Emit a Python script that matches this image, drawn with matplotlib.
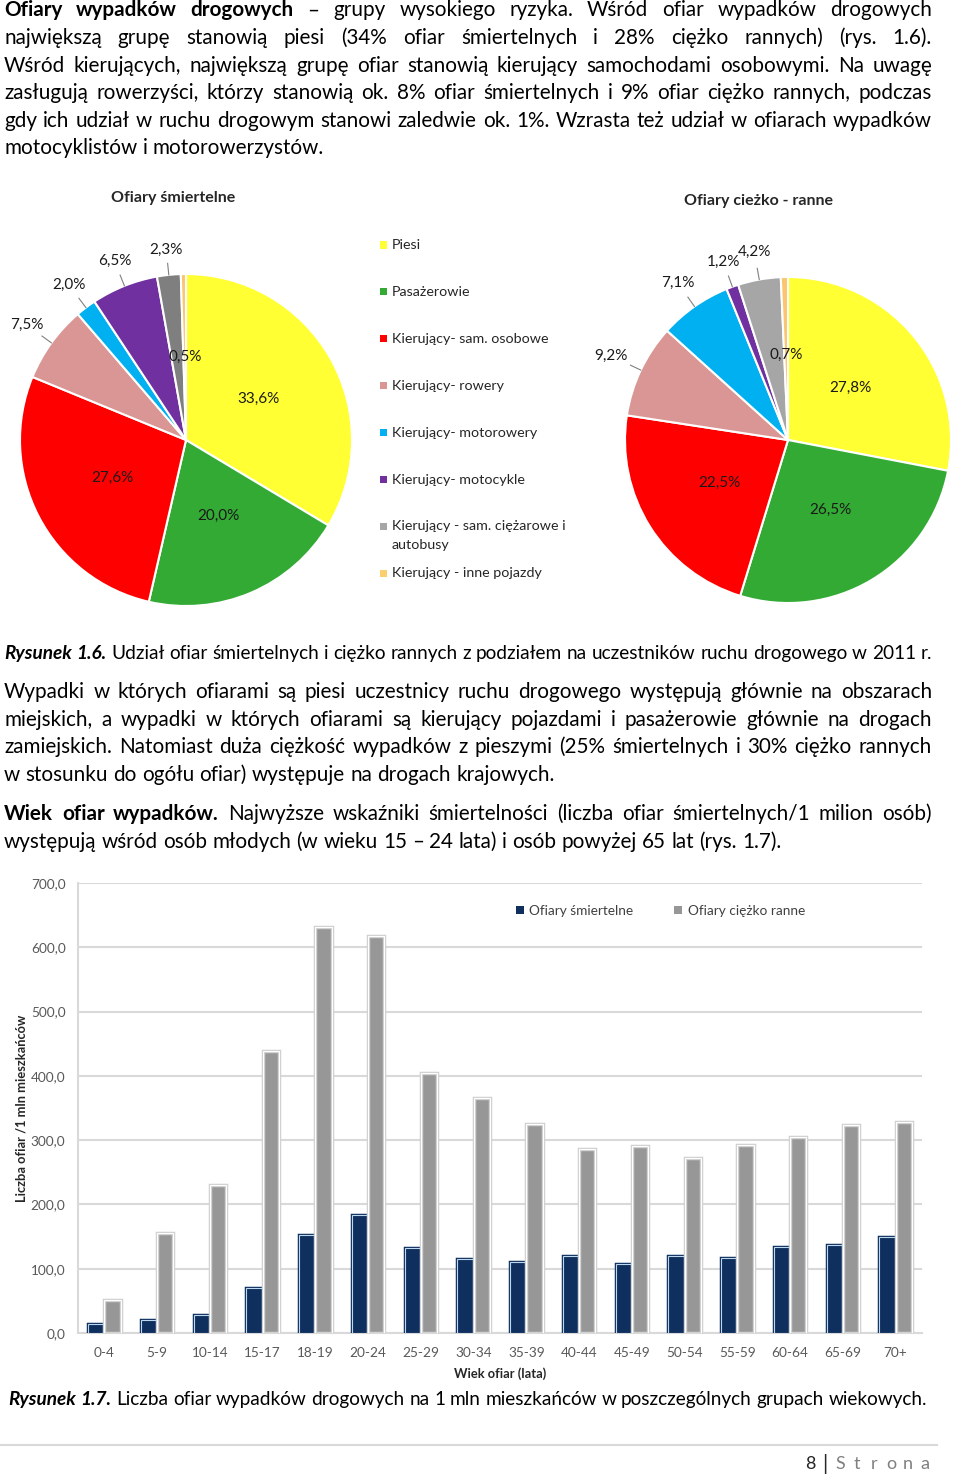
import matplotlib
matplotlib.use('Agg')
import matplotlib.pyplot as plt
from matplotlib.patches import Rectangle
from matplotlib.lines import Line2D
import numpy as np

W, H = 960, 1475

# ---------------- data ----------------
pie_categories = ['Piesi', 'Pasażerowie', 'Kierujący- sam. osobowe', 'Kierujący- rowery',
                  'Kierujący- motorowery', 'Kierujący- motocykle',
                  'Kierujący - sam. ciężarowe i\nautobusy', 'Kierujący - inne pojazdy']
fatal_share = [33.6, 20.0, 27.6, 7.5, 2.0, 6.5, 2.3, 0.5]
injured_share = [27.8, 26.5, 22.5, 9.2, 7.1, 1.2, 4.2, 0.7]
pie_titles = ['Ofiary śmiertelne', 'Ofiary cieżko - ranne']

age_groups = ['0-4', '5-9', '10-14', '15-17', '18-19', '20-24', '25-29', '30-34',
              '35-39', '40-44', '45-49', '50-54', '55-59', '60-64', '65-69', '70+']
fatal_rate = [13.5, 20, 27.5, 70, 153, 183.5, 133, 115, 111, 120, 108, 120, 116, 134, 137, 149]
injured_rate = [51, 155, 230, 438, 632, 617, 404, 365, 325, 287, 291, 273, 292, 305, 324, 328]
y_ticks = [0, 100, 200, 300, 400, 500, 600, 700]
bar_series = ['Ofiary śmiertelne', 'Ofiary ciężko ranne']

# ---------------- styles ----------------
FONT = ['Lato', 'DejaVu Sans']
NARROW = ['Liberation Sans Narrow', 'Lato', 'DejaVu Sans']
fatal_colors = ['#FFFF33', '#33AA33', '#FF0000', '#D99694', '#00B0F0', '#7030A0', '#7F7F7F', '#FAC56E']
injured_colors = ['#FFFF33', '#33AA33', '#FF0000', '#D99694', '#00B0F0', '#7030A0', '#A6A6A6', '#FAC56E']
legend_colors = ['#FFFF33', '#33AA33', '#FF0000', '#D99694', '#00B0F0', '#7030A0', '#A6A6A6', '#FAD06E']
NAVY = '#0F2F5E'
GREY = '#979797'

fig = plt.figure(figsize=(W / 100, H / 100), dpi=100)
fig.patch.set_facecolor('white')
renderer = fig.canvas.get_renderer()


def fx(x):
    return x / W


def fy(y):
    return 1 - y / H


def measure(s, **kw):
    t = fig.text(0, 0, s, **kw)
    w = t.get_window_extent(renderer).width
    t.remove()
    return w


def words_of(segs):
    out = []
    for txt, weight, style in segs:
        for wd in txt.split():
            out.append((wd, weight, style))
    return out


def natural_width(segs, size, family):
    ws = words_of(segs)
    tot = sum(measure(w, fontsize=size, fontweight=b, fontstyle=s, family=family) for w, b, s in ws)
    sp = measure('a a', fontsize=size, family=family) - measure('aa', fontsize=size, family=family)
    return tot + sp * (len(ws) - 1)


def text_line(segs, base_y, x0, x1, justify, size, family, color='black'):
    ws = words_of(segs)
    arts, widths = [], []
    for wd, b, s in ws:
        t = fig.text(fx(x0), fy(base_y), wd, fontsize=size, fontweight=b, fontstyle=s,
                     family=family, color=color, va='baseline', ha='left')
        widths.append(t.get_window_extent(renderer).width)
        arts.append(t)
    sp = measure('a a', fontsize=size, family=family) - measure('aa', fontsize=size, family=family)
    gap = (x1 - x0 - sum(widths)) / (len(ws) - 1) if (justify and len(ws) > 1) else sp
    x = x0
    for t, w in zip(arts, widths):
        t.set_x(fx(x))
        x += w + gap


R, B, I = 'normal', 'bold', 'italic'
N = 'normal'
para1 = [
    ([('Ofiary wypadków drogowych', B, N), ('– grupy wysokiego ryzyka. Wśród ofiar wypadków drogowych', R, N)], True),
    ([('największą grupę stanowią piesi (34% ofiar śmiertelnych i 28% ciężko rannych) (rys. 1.6).', R, N)], True),
    ([('Wśród kierujących, największą grupę ofiar stanowią kierujący samochodami osobowymi. Na uwagę', R, N)], True),
    ([('zasługują rowerzyści, którzy stanowią ok. 8% ofiar śmiertelnych i 9% ofiar ciężko rannych, podczas', R, N)], True),
    ([('gdy ich udział w ruchu drogowym stanowi zaledwie ok. 1%. Wzrasta też udział w ofiarach wypadków', R, N)], True),
    ([('motocyklistów i motorowerzystów.', R, N)], False),
]
para2 = [
    ([('Wypadki w których ofiarami są piesi uczestnicy ruchu drogowego występują głównie na obszarach', R, N)], True),
    ([('miejskich, a wypadki w których ofiarami są kierujący pojazdami i pasażerowie głównie na drogach', R, N)], True),
    ([('zamiejskich. Natomiast duża ciężkość wypadków z pieszymi (25% śmiertelnych i 30% ciężko rannych', R, N)], True),
    ([('w stosunku do ogółu ofiar) występuje na drogach krajowych.', R, N)], False),
]
para3 = [
    ([('Wiek ofiar wypadków.', B, N), ('Najwyższe wskaźniki śmiertelności (liczba ofiar śmiertelnych/1 milion osób)', R, N)], True),
    ([('występują wśród osób młodych (w wieku 15 – 24 lata) i osób powyżej 65 lat (rys. 1.7).', R, N)], False),
]

X0, X1 = 4, 932
base = 15.0
maxnat = max(natural_width(s, base, FONT) for s, j in para1 + para2 + para3 if j)
BODY = base * (0.985 * (X1 - X0)) / maxnat

for i, (segs, j) in enumerate(para1):
    text_line(segs, 16.5 + i * 27.6, X0, X1, j, BODY, FONT)
for i, (segs, j) in enumerate(para2):
    text_line(segs, 698 + i * 27.6, X0, X1, j, BODY, FONT)
for i, (segs, j) in enumerate(para3):
    text_line(segs, 820 + i * 27.6, X0, X1, j, BODY, FONT)

# captions
cap16 = [('Rysunek 1.6.', B, I), ('Udział ofiar śmiertelnych i ciężko rannych z podziałem na uczestników ruchu drogowego w 2011 r.', R, N)]
s16 = 12.0 * (X1 - X0) / natural_width(cap16, 12.0, FONT)
text_line(cap16, 659, X0, X1, True, s16, FONT)
cap17 = [('Rysunek 1.7.', B, I), ('Liczba ofiar wypadków drogowych na 1 mln mieszkańców w poszczególnych grupach wiekowych.', R, N)]
s17 = 12.0 * (927 - 8) / natural_width(cap17, 12.0, NARROW)
text_line(cap17, 1405, 8, 927, True, s17, NARROW)

# footer
fig.add_artist(Line2D([fx(0), fx(937)], [fy(1445), fy(1445)], color='#D9D9D9', lw=1.5))
fig.text(fx(815), fy(1469), '8', fontsize=13, family=FONT, color='#262626', ha='right', va='baseline')
fig.text(fx(825), fy(1470), '|', fontsize=15, family=FONT, color='#262626', ha='center', va='baseline')
for k, ch in enumerate('Strona'):
    fig.text(fx(840 + k * 17.0), fy(1469), ch, fontsize=13, family=FONT, color='#7F7F7F',
             ha='center', va='baseline')


# ---------------- pies ----------------
def draw_pie(cx, cy, r, vals, colors, label_r, title, title_xy):
    ax = fig.add_axes([fx(cx - r), fy(cy + r), 2 * r / W, 2 * r / H])
    wedges, _ = ax.pie(vals, colors=colors, startangle=90, counterclock=False, radius=1,
                       wedgeprops=dict(edgecolor='white', linewidth=1.5))
    ax.set_xlim(-1, 1)
    ax.set_ylim(-1, 1)
    ax.axis('off')
    for w, v, lr in zip(wedges, vals, label_r):
        th = np.deg2rad((w.theta1 + w.theta2) / 2)
        ax.text(lr * np.cos(th), lr * np.sin(th), f'{v:.1f}%'.replace('.', ','),
                ha='center', va='center', fontsize=11, family=FONT, color='#1A1A1A')
        if lr > 1:
            ax.plot([np.cos(th), 1.07 * np.cos(th)], [np.sin(th), 1.07 * np.sin(th)],
                    color='#808080', lw=0.8, clip_on=False)
    fig.text(fx(title_xy[0]), fy(title_xy[1]), title, fontsize=11.5, fontweight='bold',
             family=FONT, color='#262626', ha='center', va='center')


draw_pie(186, 440, 166, fatal_share, fatal_colors,
         [0.5, 0.5, 0.5, 1.18, 1.17, 1.16, 1.15, 0.5], pie_titles[0], (173, 198))
draw_pie(788, 440, 163, injured_share, injured_colors,
         [0.5, 0.5, 0.5, 1.2, 1.18, 1.16, 1.17, 0.52], pie_titles[1], (759, 201))

# pie legend
for i, (lab, col) in enumerate(zip(pie_categories, legend_colors)):
    yc = 245 + i * 46.9
    fig.add_artist(Rectangle((fx(380), fy(yc + 3.5)), 7 / W, 7 / H, facecolor=col, edgecolor='none'))
    for k, part in enumerate(lab.split('\n')):
        fig.text(fx(392), fy(yc + k * 19), part, fontsize=10.3, family=FONT, color='#262626',
                 ha='left', va='center')

# ---------------- bar chart ----------------
axb = fig.add_axes([fx(78), fy(1333), (922 - 78) / W, (1333 - 883) / H])
x = np.arange(len(age_groups))
bw = 0.31
axb.bar(x - bw / 2, fatal_rate, bw, color=NAVY, edgecolor=NAVY, linewidth=2.5, zorder=3, label=bar_series[0])
axb.bar(x - bw / 2, fatal_rate, bw, color='none', edgecolor='#BDD7EE', linewidth=0.8, zorder=4)
axb.bar(x + bw / 2, injured_rate, bw, color=GREY, edgecolor='#D0D0D0', linewidth=2.5, zorder=3, label=bar_series[1])
axb.bar(x + bw / 2, injured_rate, bw, color='none', edgecolor='white', linewidth=0.8, zorder=4)
axb.set_xlim(-0.5, len(age_groups) - 0.5)
axb.set_ylim(0, 700)
axb.set_yticks(y_ticks)
axb.set_yticklabels([f'{v:.1f}'.replace('.', ',') for v in y_ticks])
axb.set_xticks(x)
axb.set_xticklabels(age_groups)
axb.tick_params(axis='both', length=0, labelsize=9.8, labelcolor='#595959')
axb.tick_params(axis='y', pad=9)
axb.tick_params(axis='x', pad=10)
for lab in axb.get_xticklabels() + axb.get_yticklabels():
    lab.set_family(FONT)
axb.yaxis.grid(True, color='#D9D9D9', lw=1.5, zorder=0)
axb.set_axisbelow(True)
for s in ['top', 'right']:
    axb.spines[s].set_visible(False)
for s in ['left', 'bottom']:
    axb.spines[s].set_color('#D9D9D9')
    axb.spines[s].set_linewidth(1.5)
axb.set_xlabel('Wiek ofiar (lata)', fontsize=9.3, fontweight='bold', family=FONT, color='#262626', labelpad=6)
axb.set_ylabel('Liczba ofiar /1 mln mieszkańców', fontsize=9.3, fontweight='bold', family=FONT,
               color='#262626')
axb.yaxis.set_label_coords(-0.06, 0.5)
handles = [Rectangle((0, 0), 1, 1, facecolor=NAVY), Rectangle((0, 0), 1, 1, facecolor=GREY)]
axb.legend(handles, bar_series, loc='center', bbox_to_anchor=(0.69, 0.938), ncol=2, frameon=False,
           prop={'family': FONT, 'size': 9.8}, handlelength=0.6, handleheight=0.6, handletextpad=0.4,
           columnspacing=3.0, labelcolor='#404040')

fig.savefig('out.png', dpi=100, facecolor='white')
